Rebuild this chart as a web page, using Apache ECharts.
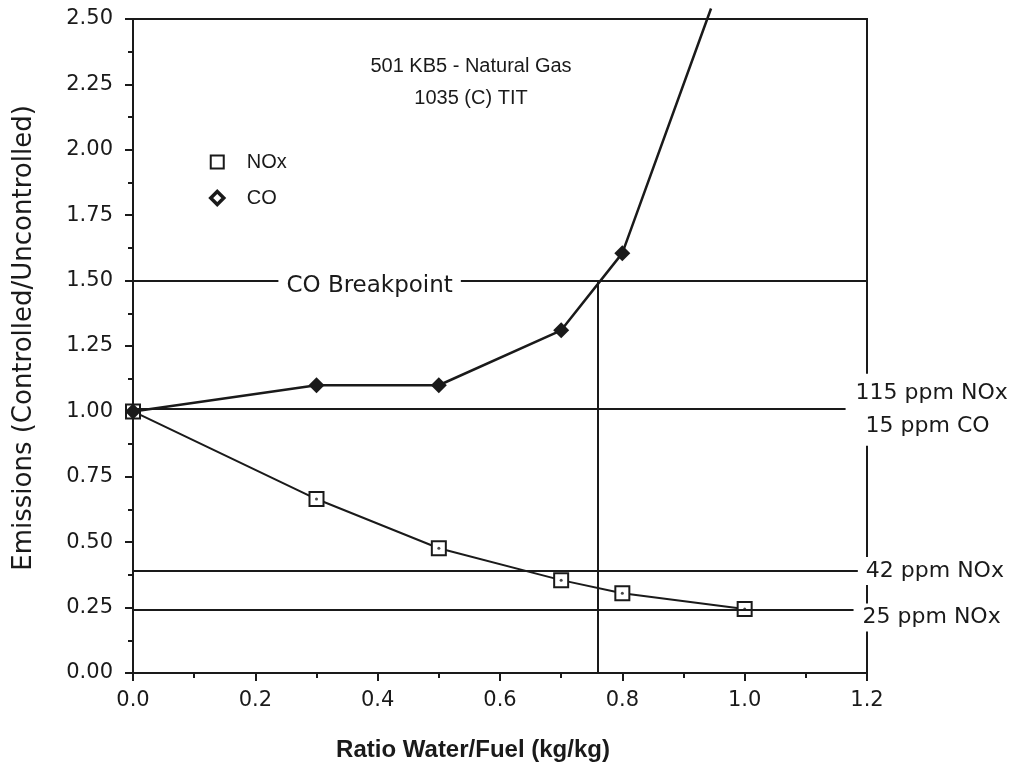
<!DOCTYPE html>
<html>
<head>
<meta charset="utf-8">
<script src="https://cdn.jsdelivr.net/npm/echarts@6/dist/echarts.min.js"></script>
<style>
  html, body { margin: 0; padding: 0; background: #fff; }
  #chart { width: 1016px; height: 775px; }
</style>
</head>
<body>
<div id="chart"></div>
<script>
// water/fuel ratio where the data points were measured
const noxX = [0, 0.3, 0.5, 0.7, 0.8, 1.0];
const noxValues = [1.0, 0.665, 0.477, 0.355, 0.305, 0.245];

// CO points; the last pair is where the curve leaves the top of the plot (no marker)
const coX = [0, 0.3, 0.5, 0.7, 0.8, 0.945];
const coValues = [1.0, 1.1, 1.1, 1.31, 1.605, 2.54];
const coMarkerCount = 5;

// limit lines: level, x where the line stops, label
const limitLevels = [1.01, 0.39, 0.243];
const limitEnds = [1.165, 1.185, 1.178];
const limitLabels = ["115 ppm NOx\n15 ppm CO", "42 ppm NOx", "25 ppm NOx"];

const breakpointLevel = 1.5;
const breakpointX = 0.76;

const titleLines = ["501 KB5 - Natural Gas", "1035 (C) TIT"];

const INK = "#1a1a1a";
const chart = echarts.init(document.getElementById("chart"));

const noxData = noxX.map((x, i) => [x, noxValues[i]]);
const coData = coX.map((x, i) =>
  i < coMarkerCount ? [x, coValues[i]] : { value: [x, coValues[i]], symbol: "none" }
);

const limitLines = limitLevels.map((y, i) => {
  const lbl = {
    show: true,
    position: "end",
    color: INK,
    fontFamily: "DejaVu Sans",
    fontSize: 22,
    backgroundColor: "#fff",
    padding: [3, 2, 3, 0],
    formatter: limitLabels[i]
  };
  if (i === 0) {
    lbl.formatter = "{a|115 ppm NOx}\n{b|15 ppm CO}";
    lbl.distance = 10;
    lbl.offset = [0, 1];
    lbl.rich = {
      a: { fontFamily: "DejaVu Sans", fontSize: 22, lineHeight: 33, color: INK },
      b: { fontFamily: "DejaVu Sans", fontSize: 22, lineHeight: 33, color: INK, padding: [0, 0, 0, 10] }
    };
  } else if (i === 1) {
    lbl.distance = 8;
  } else {
    lbl.distance = 9;
    lbl.offset = [0, 8];
  }
  return [{ coord: [0, y], label: lbl }, { coord: [limitEnds[i], y] }];
});

const option = {
  backgroundColor: "#fff",
  animation: false,
  title: titleLines.map((t, i) => ({
    text: t,
    left: 466,
    textAlign: "center",
    top: 51 + i * 32,
    textStyle: { fontFamily: "Liberation Sans", fontSize: 20, fontWeight: "normal", color: INK }
  })),
  legend: {
    orient: "vertical",
    left: 204,
    top: 147,
    itemGap: 16,
    itemWidth: 13,
    itemHeight: 13,
    textStyle: { fontFamily: "Liberation Sans", fontSize: 20, color: INK, padding: [4, 0, 0, 18] },
    data: [
      { name: "NOx", icon: "rect", itemStyle: { color: "#fff", borderColor: INK, borderWidth: 2 } },
      { name: "CO", icon: "diamond", itemStyle: { color: "#fff", borderColor: INK, borderWidth: 3.5 } }
    ]
  },
  grid: {
    left: 133,
    right: 149,
    top: 19,
    bottom: 102,
    show: true,
    borderColor: INK,
    borderWidth: 2,
    containLabel: false
  },
  xAxis: {
    type: "value",
    min: 0,
    max: 1.2,
    interval: 0.2,
    name: "Ratio Water/Fuel (kg/kg)",
    nameLocation: "middle",
    nameGap: 65,
    nameTextStyle: {
      fontFamily: "Liberation Sans", fontSize: 24, fontWeight: "bold", color: INK,
      padding: [0, 54, 0, 0]
    },
    axisLine: { lineStyle: { color: INK, width: 2 } },
    axisTick: { length: 8, lineStyle: { color: INK, width: 2 } },
    minorTick: { show: true, splitNumber: 2, length: 5, lineStyle: { color: INK, width: 2 } },
    splitLine: { show: false },
    axisLabel: {
      margin: 17,
      color: INK,
      fontFamily: "DejaVu Sans",
      fontSize: 21,
      formatter: v => v.toFixed(1)
    }
  },
  yAxis: {
    type: "value",
    min: 0,
    max: 2.5,
    interval: 0.25,
    name: "Emissions (Controlled/Uncontrolled)",
    nameLocation: "middle",
    nameGap: 96,
    nameTextStyle: { fontFamily: "DejaVu Sans", fontSize: 26, color: INK, padding: [0, 0, 0, 16] },
    axisLine: { show: true, lineStyle: { color: INK, width: 2 } },
    axisTick: { length: 8, lineStyle: { color: INK, width: 2 } },
    minorTick: { show: true, splitNumber: 2, length: 5, lineStyle: { color: INK, width: 2 } },
    splitLine: { show: false },
    axisLabel: {
      margin: 20,
      color: INK,
      fontFamily: "DejaVu Sans",
      fontSize: 21,
      formatter: v => v.toFixed(2)
    }
  },
  series: [
    {
      name: "NOx",
      type: "line",
      data: noxData,
      symbol: "rect",
      symbolSize: 14,
      itemStyle: { color: "#fff", borderColor: INK, borderWidth: 2 },
      lineStyle: { color: INK, width: 2 },
      z: 3,
      markLine: {
        silent: true,
        symbol: "none",
        lineStyle: { color: INK, width: 2, type: "solid" },
        data: limitLines.concat([
          [
            { coord: [0, breakpointLevel], label: {
                show: true, position: "middle", formatter: "CO Breakpoint",
                color: INK, fontFamily: "DejaVu Sans", fontSize: 23,
                backgroundColor: "#fff", padding: [2, 8, 2, 8], offset: [0, 24]
              } },
            { coord: [breakpointX * 1.018, breakpointLevel] }
          ],
          [
            { coord: [breakpointX, breakpointLevel], label: { show: false } },
            { coord: [1.2, breakpointLevel] }
          ],
          [
            { coord: [breakpointX, 0], label: { show: false } },
            { coord: [breakpointX, breakpointLevel] }
          ]
        ])
      }
    },
    {
      // centre dot of the NOx markers
      name: "NOx dots",
      type: "scatter",
      data: noxData.slice(1),
      symbol: "circle",
      symbolSize: 3,
      itemStyle: { color: INK },
      z: 4,
      silent: true
    },
    {
      name: "CO",
      type: "line",
      data: coData,
      symbol: "diamond",
      symbolSize: 16,
      clip: false,
      itemStyle: { color: INK },
      lineStyle: { color: INK, width: 2.5 },
      z: 5
    }
  ]
};

chart.setOption(option);
</script>
</body>
</html>
